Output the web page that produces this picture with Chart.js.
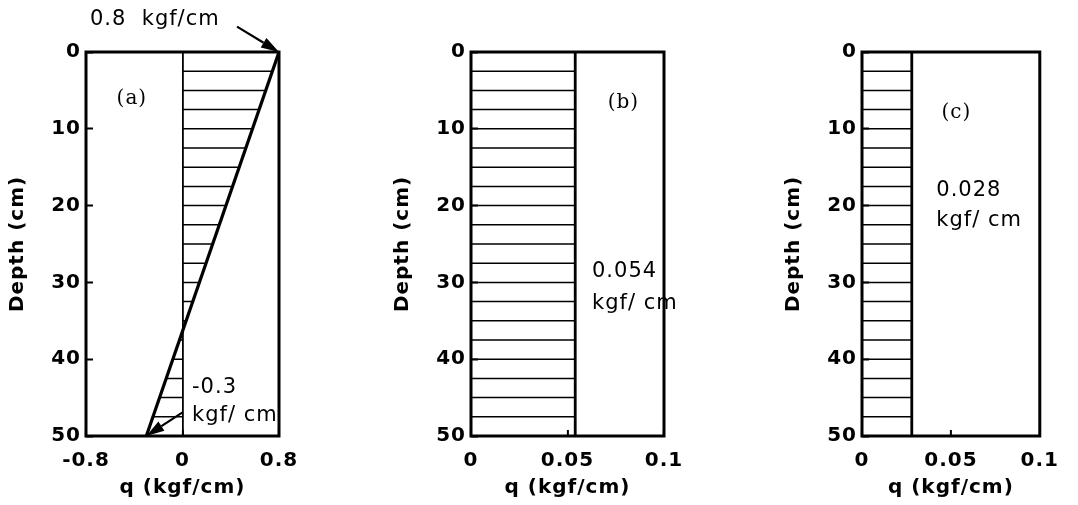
<!DOCTYPE html>
<html>
<head>
<meta charset="utf-8">
<script src="https://cdn.jsdelivr.net/npm/chart.js@4.4.1/dist/chart.umd.min.js"></script>
<style>
  html, body { margin: 0; padding: 0; background: #fff; }
  #wrap { position: relative; width: 1078px; height: 505px; }
  #wrap canvas { position: absolute; left: 0; top: 0; }
</style>
</head>
<body>
<div id="wrap">
  <canvas id="panelA" width="1078" height="505"></canvas>
  <canvas id="panelB" width="1078" height="505"></canvas>
  <canvas id="panelC" width="1078" height="505"></canvas>
</div>
<script>
// axis ticks
const depthTicks = [0, 10, 20, 30, 40, 50];
const qTicksA = [-0.8, 0, 0.8];
const qTicksBC = [0, 0.05, 0.1];

// depths of the hatch lines (cm)
const hatchDepths = [2.5, 5, 7.5, 10, 12.5, 15, 17.5, 20, 22.5, 25,
                     27.5, 30, 32.5, 35, 37.5, 40, 42.5, 45, 47.5];

// (a) linearly varying load
const profileDepthA = [0, 50];
const profileQA = [0.8, -0.3];
const hatchQA = [0.74, 0.69, 0.635, 0.58, 0.525, 0.47, 0.415, 0.36, 0.305, 0.25,
                 0.195, 0.14, 0.085, 0.03, -0.025, -0.08, -0.135, -0.19, -0.245];

// (b) and (c) uniform load
const profileDepthBC = [0, 50];
const loadB = 0.054;
const loadC = 0.028;

const BLACK = '#000';
const tickFont = { family: 'DejaVu Sans', size: 20, weight: 'bold' };
const titleFont = { family: 'DejaVu Sans', size: 20, weight: 'bold' };
const noteFont = '21px "DejaVu Sans"';
const tagFont = '20px "DejaVu Serif"';

function hatchPoints(qs) {
  const pts = [];
  hatchDepths.forEach((d, i) => {
    pts.push({ x: 0, y: d }, { x: qs[i], y: d }, { x: null, y: null });
  });
  return pts;
}

function lineSet(points, width) {
  return {
    data: points,
    showLine: true,
    borderColor: BLACK,
    borderWidth: width,
    pointRadius: 0,
    spanGaps: false,
    fill: false
  };
}

// letter spacing + frame + notes
const framePlugin = {
  id: 'frame',
  beforeLayout(chart) { chart.ctx.letterSpacing = '1px'; },
  beforeDraw(chart) { chart.ctx.letterSpacing = '1px'; },
  afterDraw(chart, args, opts) {
    const { ctx, chartArea: a, scales } = chart;
    ctx.save();
    ctx.strokeStyle = BLACK;
    ctx.lineWidth = 3;
    ctx.strokeRect(a.left, a.top, a.right - a.left, a.bottom - a.top);

    ctx.fillStyle = BLACK;
    ctx.textBaseline = 'middle';
    (opts.notes || []).forEach(n => {
      ctx.font = n.font;
      ctx.textAlign = n.align || 'left';
      ctx.fillText(n.text, scales.x.getPixelForValue(n.q), scales.y.getPixelForValue(n.d));
    });

    (opts.arrows || []).forEach(ar => {
      const x1 = scales.x.getPixelForValue(ar.from[0]), y1 = scales.y.getPixelForValue(ar.from[1]);
      const x2 = scales.x.getPixelForValue(ar.to[0]), y2 = scales.y.getPixelForValue(ar.to[1]);
      const ang = Math.atan2(y2 - y1, x2 - x1);
      const len = 18, half = 5.5;
      const bx = x2 - len * Math.cos(ang), by = y2 - len * Math.sin(ang);
      ctx.lineWidth = 2.2;
      ctx.beginPath();
      ctx.moveTo(x1, y1);
      ctx.lineTo(bx, by);
      ctx.stroke();
      ctx.beginPath();
      ctx.moveTo(x2, y2);
      ctx.lineTo(bx + half * Math.sin(ang), by - half * Math.cos(ang));
      ctx.lineTo(bx - half * Math.sin(ang), by + half * Math.cos(ang));
      ctx.closePath();
      ctx.fill();
    });
    ctx.restore();
  }
};

function makePanel(id, cfg) {
  new Chart(document.getElementById(id), {
    type: 'scatter',
    data: { datasets: cfg.datasets },
    options: {
      responsive: false,
      animation: false,
      layout: { padding: { left: cfg.left, right: cfg.right, top: 52, bottom: 0 } },
      plugins: {
        legend: { display: false },
        tooltip: { enabled: false },
        frame: { notes: cfg.notes, arrows: cfg.arrows }
      },
      scales: {
        x: {
          type: 'linear',
          min: cfg.qTicks[0],
          max: cfg.qTicks[cfg.qTicks.length - 1],
          afterBuildTicks: s => { s.ticks = cfg.qTicks.map(v => ({ value: v })); },
          afterFit: s => { s.height = 69; },
          ticks: { font: tickFont, color: BLACK, padding: 19, callback: v => String(v) },
          grid: {
            drawOnChartArea: cfg.zeroLine,
            color: c => (c.tick && c.tick.value === 0 ? BLACK : 'rgba(0,0,0,0)'),
            lineWidth: 1.8,
            tickLength: -6,
            tickColor: BLACK,
            tickWidth: 2
          },
          border: { display: false },
          title: { display: true, text: 'q (kgf/cm)', font: titleFont, color: BLACK, padding: { top: 0, bottom: 5 } }
        },
        y: {
          type: 'linear',
          reverse: true,
          min: 0,
          max: 50,
          afterBuildTicks: s => { s.ticks = depthTicks.map(v => ({ value: v })); },
          afterFit: s => { s.width = 86; },
          ticks: { font: tickFont, color: BLACK, padding: 12 },
          grid: {
            drawOnChartArea: false,
            tickLength: -7,
            tickColor: BLACK,
            tickWidth: 2
          },
          border: { display: false },
          title: { display: true, text: 'Depth (cm)', font: titleFont, color: BLACK, padding: { top: 6, bottom: 0 } }
        }
      }
    },
    plugins: [framePlugin]
  });
}

makePanel('panelA', {
  left: 0, right: 799, qTicks: qTicksA, zeroLine: true,
  datasets: [
    lineSet(hatchPoints(hatchQA), 1.5),
    lineSet(profileDepthA.map((d, i) => ({ x: profileQA[i], y: d })), 3.2)
  ],
  notes: [
    { text: '0.8  kgf/cm', q: -0.767, d: -4.2, font: noteFont },
    { text: '(a)', q: -0.42, d: 6.1, font: tagFont, align: 'center' },
    { text: '-0.3', q: 0.079, d: 43.7, font: noteFont },
    { text: 'kgf/ cm', q: 0.079, d: 47.3, font: noteFont }
  ],
  arrows: [
    { from: [0.452, -3.3], to: [0.8, 0] },
    { from: [0.004, 46.9], to: [-0.3, 50] }
  ]
});

makePanel('panelB', {
  left: 385, right: 414, qTicks: qTicksBC, zeroLine: false,
  datasets: [
    lineSet(hatchPoints(hatchDepths.map(() => loadB)), 1.5),
    lineSet(profileDepthBC.map(d => ({ x: loadB, y: d })), 2.8)
  ],
  notes: [
    { text: '(b)', q: 0.079, d: 6.6, font: tagFont, align: 'center' },
    { text: '0.054', q: 0.0627, d: 28.6, font: noteFont },
    { text: 'kgf/ cm', q: 0.0627, d: 32.7, font: noteFont }
  ]
});

makePanel('panelC', {
  left: 776, right: 22, qTicks: qTicksBC, zeroLine: false,
  datasets: [
    lineSet(hatchPoints(hatchDepths.map(() => loadC)), 1.5),
    lineSet(profileDepthBC.map(d => ({ x: loadC, y: d })), 2.8)
  ],
  notes: [
    { text: '(c)', q: 0.0531, d: 7.9, font: tagFont, align: 'center' },
    { text: '0.028', q: 0.0418, d: 18, font: noteFont },
    { text: 'kgf/ cm', q: 0.0418, d: 21.9, font: noteFont }
  ]
});
</script>
</body>
</html>
